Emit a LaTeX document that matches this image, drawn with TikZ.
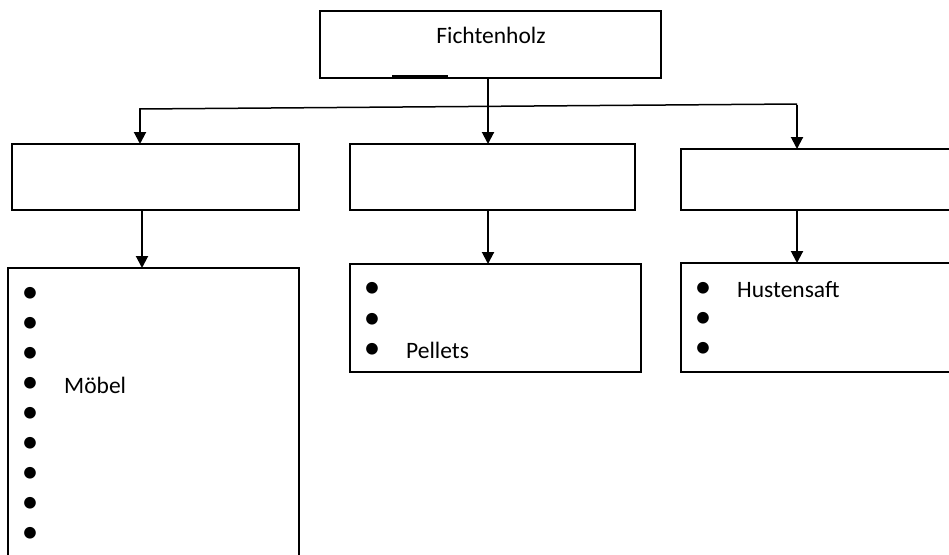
\documentclass[tikz,border=0pt]{standalone}
\usepackage{fontspec}
\setmainfont{Carlito}
\usetikzlibrary{arrows.meta}
\begin{document}
\begin{tikzpicture}[x=1pt,y=-1pt,
  box/.style={draw=black,line width=1.9pt,rectangle,anchor=north west,inner sep=0pt,outer sep=0pt},
  conn/.style={line width=1.5pt},
  arr/.style={line width=2pt,-{Triangle[width=12pt,length=12pt]}},
  lbl/.style={anchor=base west,inner sep=0pt,font=\fontsize{23.5}{28}\selectfont},
  bul/.style={anchor=center,inner sep=0pt,font=\fontsize{33}{36}\selectfont}]
\useasboundingbox (0,0) rectangle (949,554);
\clip (0,0) rectangle (949,554);
% top box
\node[box,minimum width=341pt,minimum height=67pt] (top) at (320,11) {};
\node[anchor=base,inner sep=0pt,font=\fontsize{23.5}{28}\selectfont] (toptxt) at (491,43) {Fichtenholz};
\draw[line width=1.8pt] (392,76.2) -- (448,76.2);
% second row
\node[box,minimum width=287pt,minimum height=66pt] (l1) at (12,144) {};
\node[box,minimum width=285pt,minimum height=66pt] (m1) at (350,144) {};
\node[box,minimum width=290pt,minimum height=61pt] (r1) at (681,149) {};
% third row
\node[box,minimum width=291pt,minimum height=300pt] (l2) at (8,268) {};
\node[box,minimum width=291pt,minimum height=108pt] (m2) at (350,264) {};
\node[box,minimum width=290pt,minimum height=109pt] (r2) at (681,263) {};
% connectors
\coordinate (hl) at (139.2,109);
\coordinate (hr) at (797,104);
\coordinate (hm) at (488,106.5);
\coordinate (la) at (140,109);
\draw[conn] (hl) -- (hr);
\draw[conn] (top.south -| hm) -- (hm);
\draw[arr] (hm) -- (hm |- m1.north);
\draw[arr] (la) -- (la |- l1.north);
\draw[arr] ([yshift=-0.7pt]hr) -- (hr |- r1.north);
\draw[arr] (l1.south -| 142,0) -- (l2.north -| 142,0);
\draw[arr] (m1.south -| hm) -- (m2.north -| hm);
\draw[arr] (r1.south -| hr) -- (r2.north -| hr);
% left list
\foreach \i in {0,...,8}{
  \node[bul] (lb\i) at (30,{295+30*\i}) {\textbullet};
}
\node[lbl] (moebel) at (64,393) {Möbel};
% middle list
\foreach \i in {0,1,2}{
  \node[bul] (mb\i) at (372,{290+30.5*\i}) {\textbullet};
}
\node[lbl] (pellets) at (406,358) {Pellets};
% right list
\foreach \i in {0,1,2}{
  \node[bul] (rb\i) at (703,{290+30*\i}) {\textbullet};
}
\node[lbl] (husten) at (737,297) {Hustensaft};
\end{tikzpicture}
\end{document}
